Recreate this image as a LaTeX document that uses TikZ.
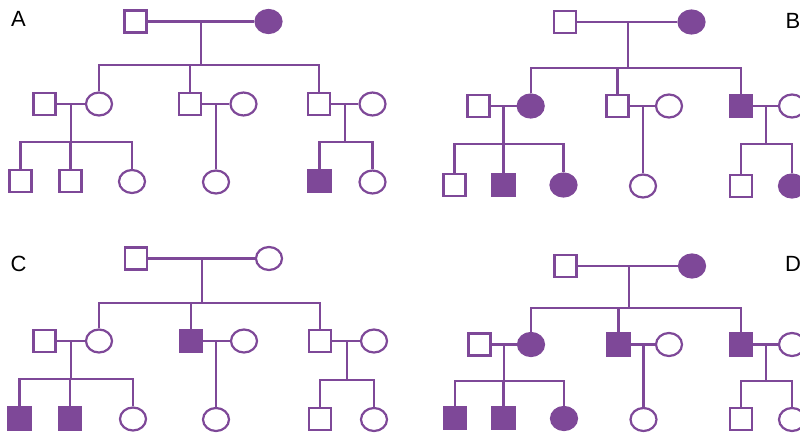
\documentclass[tikz,border=0pt]{standalone}
\usepackage{fontspec}
\setmainfont{Liberation Sans}
\usetikzlibrary{shapes.geometric}
\definecolor{pur}{RGB}{126,72,152}
\tikzset{
  ml/.style={draw=pur, rectangle, minimum size=22pt, inner sep=0pt, fill=white, line width=2.2pt},
  fl/.style={draw=pur, ellipse, minimum width=26pt, minimum height=23pt, inner sep=0pt, fill=white, line width=2.2pt},
  ma/.style={ml, fill=pur},
  fa/.style={fl, fill=pur},
  lk/.style={draw=pur, line width=2.2pt},
  lbl/.style={font=\fontsize{22}{26}\selectfont, text=black, inner sep=0pt}
}
\begin{document}
\begin{tikzpicture}[x=1pt,y=-1pt]
\clip (0,0) rectangle (800,436);
\fill[white] (0,0) rectangle (800,436);
% ---------------- Panel A ----------------
\node[lbl] (LA) at (18.5,19) {A};
\node[ml] (A1) at (135.5,21.5) {};
\node[fa] (A2) at (268.5,21.5) {};
\node[ml] (A3) at (44.5,104) {};
\node[fl] (A4) at (99,104) {};
\node[ml] (A5) at (190,104) {};
\node[fl] (A6) at (243.5,104) {};
\node[ml] (A7) at (319,104) {};
\node[fl] (A8) at (372.5,104) {};
\node[ml] (A9) at (20.5,181) {};
\node[ml] (A10) at (70.5,181) {};
\node[fl] (A11) at (132,181.5) {};
\node[fl] (A12) at (216,182) {};
\node[ma] (A13) at (319.5,181) {};
\node[fl] (A14) at (372.5,182) {};
\coordinate (Am) at (201,21.5);
\coordinate (Aj) at (201,65);
\coordinate (Am1) at (70.7,104);
\coordinate (Aj1) at (70.7,141.7);
\coordinate (Am2) at (216,104);
\coordinate (Am3) at (345,104);
\coordinate (Aj3) at (345,142);
\draw[lk] (A1) -- (A2);
\draw[lk] (Am) -- (Aj);
\draw[lk] (A4.north) |- (Aj) -| (A7.north);
\draw[lk] (A5.north) -- (A5.north |- Aj);
\draw[lk] (A3) -- (A4);
\draw[lk] (A5) -- (A6);
\draw[lk] (A7) -- (A8);
\draw[lk] (Am1) -- (Aj1);
\draw[lk] (A9.north) |- (Aj1) -| (A11.north);
\draw[lk] (A10.north) -- (A10.north |- Aj1);
\draw[lk] (Am2) -- (A12.north);
\draw[lk] (Am3) -- (Aj3);
\draw[lk] (A13.north) |- (Aj3) -| (A14.north);
% ---------------- Panel B ----------------
\node[lbl] (LB) at (793,21) {B};
\node[ml] (B1) at (565,22) {};
\node[fa] (B2) at (691.5,22) {};
\node[ml] (B3) at (478.5,106) {};
\node[fa] (B4) at (530.7,106) {};
\node[ml] (B5) at (617.5,106) {};
\node[fl] (B6) at (669,106) {};
\node[ma] (B7) at (741,106) {};
\node[fl] (B8) at (792,106) {};
\node[ml] (B9) at (454.5,185) {};
\node[ma] (B10) at (503.5,185) {};
\node[fa] (B11) at (563.5,185) {};
\node[fl] (B12) at (643,186) {};
\node[ml] (B13) at (741,186) {};
\node[fa] (B14) at (792,186) {};
\coordinate (Bm) at (628,22);
\coordinate (Bj) at (628,67.7);
\coordinate (Bm1) at (503.5,106);
\coordinate (Bj1) at (503.5,144);
\coordinate (Bm2) at (643,106);
\coordinate (Bm3) at (766,106);
\coordinate (Bj3) at (766,144);
\draw[lk] (B1) -- (B2);
\draw[lk] (Bm) -- (Bj);
\draw[lk] (B4.north) |- (Bj) -| (B7.north);
\draw[lk] (B5.north) -- (B5.north |- Bj);
\draw[lk] (B3) -- (B4);
\draw[lk] (B5) -- (B6);
\draw[lk] (B7) -- (B8);
\draw[lk] (Bm1) -- (Bj1);
\draw[lk] (B9.north) |- (Bj1) -| (B11.north);
\draw[lk] (B10.north) -- (B10.north |- Bj1);
\draw[lk] (Bm2) -- (B12.north);
\draw[lk] (Bm3) -- (Bj3);
\draw[lk] (B13.north) |- (Bj3) -| (B14.north);
% ---------------- Panel C ----------------
\node[lbl] (LC) at (18.5,264) {C};
\node[ml] (C1) at (136,258.5) {};
\node[fl] (C2) at (269,258.5) {};
\node[ml] (C3) at (44.5,341) {};
\node[fl] (C4) at (99,341) {};
\node[ma] (C5) at (191,341) {};
\node[fl] (C6) at (244,341) {};
\node[ml] (C7) at (320,341) {};
\node[fl] (C8) at (374,341) {};
\node[ma] (C9) at (19.5,418.5) {};
\node[ma] (C10) at (70,418.5) {};
\node[fl] (C11) at (133,419) {};
\node[fl] (C12) at (216,419.5) {};
\node[ml] (C13) at (320,419) {};
\node[fl] (C14) at (374,419.5) {};
\coordinate (Cm) at (201.7,258.5);
\coordinate (Cj) at (201.7,303);
\coordinate (Cm1) at (70.7,341);
\coordinate (Cj1) at (70.7,378.7);
\coordinate (Cm2) at (216,341);
\coordinate (Cm3) at (346.7,341);
\coordinate (Cj3) at (346.7,379.7);
\draw[lk] (C1) -- (C2);
\draw[lk] (Cm) -- (Cj);
\draw[lk] (C4.north) |- (Cj) -| (C7.north);
\draw[lk] (C5.north) -- (C5.north |- Cj);
\draw[lk] (C3) -- (C4);
\draw[lk] (C5) -- (C6);
\draw[lk] (C7) -- (C8);
\draw[lk] (Cm1) -- (Cj1);
\draw[lk] (C9.north) |- (Cj1) -| (C11.north);
\draw[lk] (C10.north) -- (C10.north |- Cj1);
\draw[lk] (Cm2) -- (C12.north);
\draw[lk] (Cm3) -- (Cj3);
\draw[lk] (C13.north) |- (Cj3) -| (C14.north);
% ---------------- Panel D ----------------
\node[lbl] (LD) at (793,264) {D};
\node[ml] (D1) at (565.5,266) {};
\node[fa] (D2) at (692,266) {};
\node[ml] (D3) at (479.5,344.5) {};
\node[fa] (D4) at (531,344.5) {};
\node[ma] (D5) at (618.5,344.5) {};
\node[fl] (D6) at (669,344.5) {};
\node[ma] (D7) at (741,344.5) {};
\node[fl] (D8) at (792,344.5) {};
\node[ma] (D9) at (455,418) {};
\node[ma] (D10) at (503.5,418) {};
\node[fa] (D11) at (564,418.5) {};
\node[fl] (D12) at (643.5,419.5) {};
\node[ml] (D13) at (741,419) {};
\node[fl] (D14) at (792,419.5) {};
\coordinate (Dm) at (629,266);
\coordinate (Dj) at (629,308);
\coordinate (Dm1) at (504,344.5);
\coordinate (Dj1) at (504,380.7);
\coordinate (Dm2) at (643.5,344.5);
\coordinate (Dm3) at (765.7,344.5);
\coordinate (Dj3) at (765.7,380.7);
\draw[lk] (D1) -- (D2);
\draw[lk] (Dm) -- (Dj);
\draw[lk] (D4.north) |- (Dj) -| (D7.north);
\draw[lk] (D5.north) -- (D5.north |- Dj);
\draw[lk] (D3) -- (D4);
\draw[lk] (D5) -- (D6);
\draw[lk] (D7) -- (D8);
\draw[lk] (Dm1) -- (Dj1);
\draw[lk] (D9.north) |- (Dj1) -| (D11.north);
\draw[lk] (D10.north) -- (D10.north |- Dj1);
\draw[lk] (Dm2) -- (D12.north);
\draw[lk] (Dm3) -- (Dj3);
\draw[lk] (D13.north) |- (Dj3) -| (D14.north);
\end{tikzpicture}
\end{document}
